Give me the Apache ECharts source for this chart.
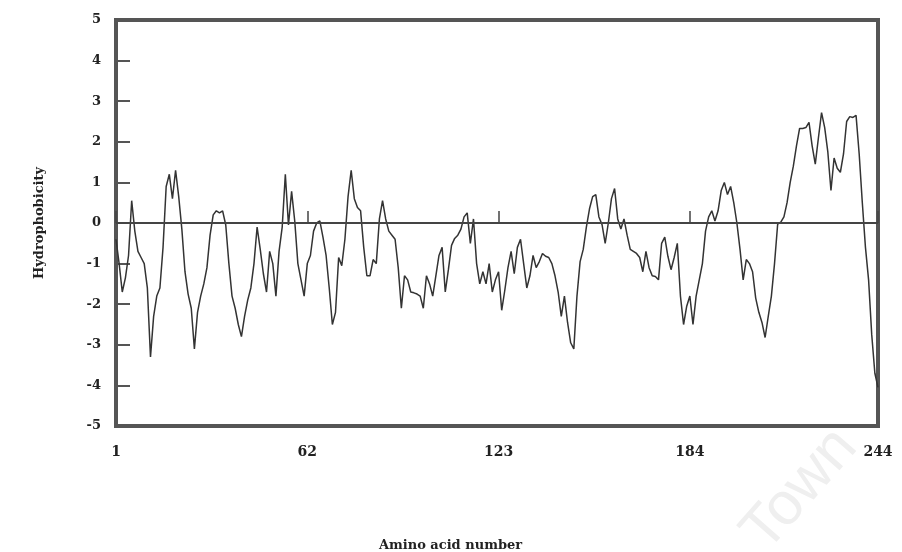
<!DOCTYPE html>
<html>
<head>
<meta charset="utf-8">
<script src="https://cdn.jsdelivr.net/npm/echarts@6/dist/echarts.min.js"></script>
<style>
html,body{margin:0;padding:0;background:#fff;}
#chart{width:902px;height:552px;}
</style>
</head>
<body>
<div id="chart"></div>
<script>
// Hydrophobicity per amino acid (residues 1..244)
const hydrophobicity = [
 -0.4,-1.0,-1.7,-1.35,-0.8,0.55,-0.2,-0.7,-0.85,-1.0,
 -1.6,-3.3,-2.3,-1.8,-1.6,-0.6,0.9,1.2,0.6,1.3,
 0.65,-0.15,-1.2,-1.75,-2.1,-3.1,-2.2,-1.8,-1.5,-1.1,
 -0.3,0.2,0.3,0.25,0.3,-0.05,-1.0,-1.8,-2.1,-2.5,
 -2.8,-2.3,-1.9,-1.6,-1.0,-0.1,-0.65,-1.25,-1.7,-0.7,
 -1.0,-1.8,-0.7,-0.1,1.2,-0.05,0.78,0.05,-1.0,-1.4,
 -1.8,-1.0,-0.8,-0.2,0.0,0.05,-0.35,-0.8,-1.6,-2.5,
 -2.2,-0.85,-1.05,-0.4,0.65,1.3,0.6,0.38,0.3,-0.6,
 -1.3,-1.3,-0.9,-1.0,0.1,0.55,0.1,-0.2,-0.3,-0.4,
 -1.1,-2.1,-1.3,-1.4,-1.7,-1.72,-1.75,-1.8,-2.1,-1.3,
 -1.5,-1.8,-1.3,-0.8,-0.6,-1.7,-1.15,-0.55,-0.38,-0.3,
 -0.15,0.15,0.25,-0.5,0.1,-1.0,-1.5,-1.2,-1.5,-1.0,
 -1.7,-1.4,-1.2,-2.15,-1.65,-1.1,-0.7,-1.25,-0.6,-0.4,
 -1.0,-1.6,-1.3,-0.8,-1.1,-0.95,-0.75,-0.82,-0.85,-1.0,
 -1.3,-1.7,-2.3,-1.8,-2.45,-2.95,-3.1,-1.8,-0.95,-0.65,
 -0.1,0.35,0.65,0.7,0.15,-0.04,-0.5,0.0,0.6,0.85,
 0.1,-0.15,0.1,-0.3,-0.65,-0.7,-0.75,-0.85,-1.2,-0.7,
 -1.1,-1.3,-1.32,-1.4,-0.5,-0.35,-0.82,-1.15,-0.85,-0.5,
 -1.8,-2.5,-2.05,-1.8,-2.5,-1.8,-1.4,-1.0,-0.2,0.15,
 0.3,0.05,0.3,0.8,1.0,0.7,0.9,0.5,0.0,-0.65,
 -1.4,-0.9,-1.0,-1.2,-1.85,-2.2,-2.45,-2.82,-2.3,-1.8,
 -1.0,-0.03,0.02,0.15,0.5,1.0,1.4,1.9,2.33,2.33,
 2.35,2.48,1.9,1.45,2.1,2.72,2.35,1.75,0.8,1.6,
 1.35,1.25,1.7,2.5,2.62,2.6,2.65,1.7,0.5,-0.6,
 -1.4,-2.75,-3.7,-4.05
];
const xTickValues = [1, 62, 123, 184, 244];
const yMin = -5, yMax = 5, yStep = 1;

const points = hydrophobicity.map((v, i) => [i + 1, v]);

const chart = echarts.init(document.getElementById('chart'), null, {renderer: 'canvas'});
const serif = '"DejaVu Serif", "Liberation Serif", serif';

chart.setOption({
  animation: false,
  backgroundColor: '#ffffff',
  grid: {
    left: 116, top: 20, width: 762, height: 406,
    outerBoundsMode: 'none', containLabel: false,
    show: true, borderColor: '#555555', borderWidth: 4, backgroundColor: 'transparent'
  },
  xAxis: {
    type: 'value', min: 1, max: 244,
    name: 'Amino acid number', nameLocation: 'middle', nameGap: 113,
    nameTextStyle: {fontFamily: serif, fontWeight: 'bold', fontSize: 13, color: '#222',
      padding: [0, 93, 0, 0]},
    axisLine: {show: false},
    splitLine: {show: false},
    axisTick: {show: true, inside: true, length: 12, customValues: xTickValues,
      lineStyle: {color: '#444', width: 1.5}},
    axisLabel: {customValues: xTickValues, margin: 19,
      fontFamily: serif, fontWeight: 'bold', fontSize: 14, color: '#222'}
  },
  yAxis: {
    type: 'value', min: yMin, max: yMax, interval: yStep,
    name: 'Hydrophobicity', nameLocation: 'middle', nameGap: 70, nameRotate: 90,
    nameTextStyle: {fontFamily: serif, fontWeight: 'bold', fontSize: 13, color: '#222'},
    axisLine: {show: false},
    splitLine: {show: false},
    axisTick: {show: true, inside: true, length: 14, lineStyle: {color: '#555', width: 2}},
    axisLabel: {margin: 15, fontFamily: serif, fontWeight: 'bold', fontSize: 13, color: '#222'}
  },
  series: [{
    type: 'line',
    data: points,
    showSymbol: false,
    symbol: 'none',
    lineStyle: {color: '#333333', width: 1.5},
    markLine: {
      silent: true, symbol: 'none', label: {show: false},
      lineStyle: {color: '#444444', width: 2, type: 'solid'},
      data: [{yAxis: 0}]
    }
  }],
  graphic: [{
    type: 'text', x: 800, y: 490, rotation: 0.85, silent: true, z: -1,
    style: {text: 'Town', fontFamily: '"Liberation Sans", Arial, sans-serif', fontSize: 60,
      fill: '#efefef', textAlign: 'center', textVerticalAlign: 'middle'}
  }]
});
</script>
</body>
</html>
